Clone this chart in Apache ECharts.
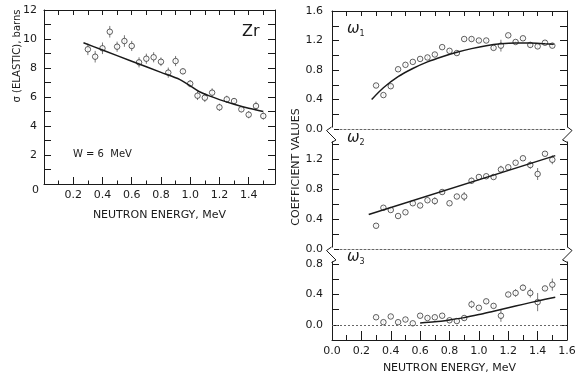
<!DOCTYPE html>
<html>
<head>
<meta charset="utf-8">
<script src="https://cdn.jsdelivr.net/npm/echarts@6/dist/echarts.min.js"></script>
<style>
  html, body { margin: 0; padding: 0; background: #fff; }
  #chart { width: 579px; height: 381px; }
</style>
</head>
<body>
<div id="chart"></div>
<script>
// neutron energies of the measured points (MeV)
const energy = [0.30, 0.35, 0.40, 0.45, 0.50, 0.55, 0.60, 0.65, 0.70, 0.75, 0.80, 0.85, 0.90,
                0.95, 1.00, 1.05, 1.10, 1.15, 1.20, 1.25, 1.30, 1.35, 1.40, 1.45, 1.50];

// elastic cross section, barns
const sigma = [9.29, 8.78, 9.36, 10.5, 9.47, 9.86, 9.52, 8.39, 8.64, 8.74, 8.43, 7.68, 8.48,
               7.77, 6.92, 6.09, 5.95, 6.30, 5.29, 5.84, 5.72, 5.15, 4.78, 5.38, 4.69];
const sigmaErr = [0.4, 0.4, 0.4, 0.4, 0.35, 0.4, 0.35, 0.35, 0.35, 0.35, 0.3, 0.35, 0.35,
                  0.2, 0.25, 0.3, 0.3, 0.3, 0.25, 0.25, 0.2, 0.2, 0.25, 0.3, 0.25];
const sigmaFitE = [0.27, 0.4, 0.6, 0.8, 0.93, 1.0, 1.06, 1.14, 1.2, 1.3, 1.4, 1.5];
const sigmaFit = [9.74, 9.24, 8.47, 7.70, 7.2, 6.77, 6.38, 6.04, 5.82, 5.5, 5.22, 5.0];

// legendre coefficients
const w1 = [0.59, 0.46, 0.58, 0.81, 0.87, 0.91, 0.95, 0.97, 1.01, 1.11, 1.06, 1.03, 1.22,
            1.22, 1.20, 1.20, 1.10, 1.13, 1.27, 1.18, 1.23, 1.14, 1.12, 1.17, 1.13];
const w1Err = [0.02, 0.02, 0.03, 0.02, 0.02, 0.02, 0.02, 0.02, 0.02, 0.02, 0.02, 0.02, 0.02,
               0.03, 0.02, 0.02, 0.03, 0.08, 0.02, 0.02, 0.02, 0.04, 0.03, 0.02, 0.03];
const w1FitE = [0.27, 0.35, 0.45, 0.55, 0.65, 0.75, 0.85, 0.95, 1.05, 1.15, 1.25, 1.35, 1.45, 1.51];
const w1Fit = [0.40, 0.56, 0.71, 0.82, 0.91, 0.98, 1.04, 1.09, 1.13, 1.155, 1.165, 1.165, 1.155, 1.15];

const w2 = [0.31, 0.55, 0.52, 0.44, 0.49, 0.61, 0.58, 0.65, 0.64, 0.76, 0.61, 0.70, 0.70,
            0.91, 0.96, 0.97, 0.96, 1.06, 1.09, 1.15, 1.21, 1.12, 1.00, 1.27, 1.19];
const w2Err = [0.02, 0.02, 0.02, 0.02, 0.02, 0.03, 0.02, 0.02, 0.05, 0.03, 0.02, 0.02, 0.06,
               0.04, 0.02, 0.02, 0.03, 0.05, 0.02, 0.02, 0.02, 0.05, 0.08, 0.02, 0.06];
const w2FitE = [0.25, 1.52];
const w2Fit = [0.46, 1.245];

const w3 = [0.10, 0.035, 0.11, 0.035, 0.07, 0.02, 0.12, 0.09, 0.10, 0.12, 0.06, 0.05, 0.09,
            0.27, 0.225, 0.31, 0.25, 0.12, 0.40, 0.42, 0.49, 0.42, 0.30, 0.48, 0.53];
const w3Err = [0.02, 0.02, 0.02, 0.02, 0.02, 0.02, 0.02, 0.02, 0.02, 0.02, 0.02, 0.02, 0.03,
               0.05, 0.02, 0.03, 0.03, 0.08, 0.03, 0.05, 0.04, 0.06, 0.12, 0.03, 0.08];
const w3FitE = [0.6, 0.7, 0.8, 0.9, 1.0, 1.1, 1.2, 1.3, 1.4, 1.52];
const w3Fit = [0.025, 0.04, 0.065, 0.095, 0.135, 0.18, 0.225, 0.27, 0.315, 0.365];

const ink = '#1a1a1a';
const font = 'DejaVu Sans';

const chart = echarts.init(document.getElementById('chart'));

// every 0.4 gets a label on the coefficient axes
const coefLabel = (hideTop) => (v) => {
    const k = Math.round(v * 10);
    if (k % 4 !== 0 || k < 0) return '';
    if (hideTop && k >= 16) return '';
    return (k / 10).toFixed(1);
};

function frameX(gridIndex, pos, min, max, extra) {
    return Object.assign({
        type: 'value', gridIndex: gridIndex, position: pos, min: min, max: max, interval: 0.1,
        axisLine: {show: true, onZero: false, lineStyle: {color: ink, width: 1}},
        axisTick: {show: true, inside: true, length: 5, lineStyle: {color: ink}},
        axisLabel: {show: false}, splitLine: {show: false}
    }, extra || {});
}

function frameY(gridIndex, pos, min, max, interval, extra) {
    return Object.assign({
        type: 'value', gridIndex: gridIndex, position: pos, min: min, max: max, interval: interval,
        axisLine: {show: true, onZero: false, lineStyle: {color: ink, width: 1}},
        axisTick: {show: true, inside: true, length: 7, lineStyle: {color: ink}},
        axisLabel: {show: false}, splitLine: {show: false}
    }, extra || {});
}

const labelStyle = {color: ink, fontFamily: font, fontSize: 11};

const xAxes = [
    // left panel bottom
    frameX(0, 'bottom', 0, 1.58, {
        interval: 0.2,
        axisTick: {show: true, inside: true, length: 7, lineStyle: {color: ink}},
        minorTick: {show: true, splitNumber: 2, length: 3.5, lineStyle: {color: ink}},
        axisLabel: Object.assign({show: true, margin: 6,
            formatter: v => (v > 0.05 && v < 1.5) ? v.toFixed(1) : ''}, labelStyle),
        name: 'NEUTRON ENERGY, MeV', nameLocation: 'middle', nameGap: 26,
        nameTextStyle: {color: ink, fontFamily: font, fontSize: 11}
    }),
    frameX(0, 'top', 0, 1.58),
    // w1 panel
    frameX(1, 'bottom', 0, 1.6, {
        axisLine: {show: true, onZero: false, lineStyle: {color: '#666', width: 1, type: [2, 2]}},
        axisTick: {show: false}
    }),
    frameX(1, 'top', 0, 1.6),
    // w2 panel
    frameX(2, 'bottom', 0, 1.6, {
        axisLine: {show: true, onZero: false, lineStyle: {color: '#666', width: 1, type: [2, 2]}},
        axisTick: {show: false}
    }),
    // w3 panel bottom
    frameX(3, 'bottom', 0, 1.6, {
        interval: 0.2,
        axisTick: {show: true, inside: true, length: 9, lineStyle: {color: ink}},
        minorTick: {show: true, splitNumber: 2, length: 5, lineStyle: {color: ink}},
        axisLabel: Object.assign({show: true, margin: 6, formatter: v => v.toFixed(1)}, labelStyle),
        name: 'NEUTRON ENERGY, MeV', nameLocation: 'middle', nameGap: 23,
        nameTextStyle: {color: ink, fontFamily: font, fontSize: 11}
    })
];

const yAxes = [
    frameY(0, 'left', 0, 12, 2, {
        minorTick: {show: true, splitNumber: 2, length: 7, lineStyle: {color: ink}},
        axisLabel: Object.assign({show: true, margin: 7, formatter: v => v === 0 ? '' : v}, labelStyle)
    }),
    frameY(0, 'right', 0, 12, 1),
    frameY(1, 'left', 0, 1.6, 0.2, {
        axisLabel: Object.assign({show: true, margin: 9, formatter: coefLabel(false)}, labelStyle)
    }),
    frameY(1, 'right', 0, 1.6, 0.2),
    frameY(2, 'left', 0, 1.6, 0.2, {
        axisLabel: Object.assign({show: true, margin: 9, formatter: coefLabel(true)}, labelStyle)
    }),
    frameY(2, 'right', 0, 1.6, 0.2),
    frameY(3, 'left', -0.2, 1.0, 0.2, {
        axisLabel: Object.assign({show: true, margin: 9, formatter: coefLabel(true)}, labelStyle)
    }),
    frameY(3, 'right', -0.2, 1.0, 0.2)
];

function errorBars(xi, yi, vals, errs) {
    return {
        type: 'custom', xAxisIndex: xi, yAxisIndex: yi, z: 2,
        data: energy.map((e, i) => [e, vals[i], errs[i]]),
        renderItem: (params, api) => {
            const x = api.value(0), y = api.value(1), d = api.value(2);
            const p1 = api.coord([x, y - d]);
            const p2 = api.coord([x, y + d]);
            return {type: 'line', shape: {x1: p1[0], y1: p1[1], x2: p2[0], y2: p2[1]},
                    style: {stroke: '#555', lineWidth: 0.8}};
        }
    };
}

function points(xi, yi, vals) {
    return {
        type: 'scatter', xAxisIndex: xi, yAxisIndex: yi, z: 3,
        symbol: 'circle', symbolSize: 5.5,
        itemStyle: {color: '#fff', borderColor: '#222', borderWidth: 0.9},
        data: energy.map((e, i) => [e, vals[i]])
    };
}

function fit(xi, yi, xs, ys, extra) {
    return Object.assign({
        type: 'line', xAxisIndex: xi, yAxisIndex: yi, z: 4, smooth: 0.3,
        showSymbol: false, symbol: 'none',
        lineStyle: {color: ink, width: 1.5},
        data: xs.map((e, i) => [e, ys[i]])
    }, extra || {});
}

// break marks on the stacked axis
function breakMarks(y) {
    return [
        {type: 'rect', shape: {x: 329, y: y - 1.5, width: 5, height: 14}, style: {fill: '#fff'}, z: 50},
        {type: 'polyline', shape: {points: [[331.5, y - 2], [326.5, y + 1.5], [336, y + 11], [331.5, y + 13.5]]},
         style: {stroke: ink, lineWidth: 1, fill: null}, z: 51},
        {type: 'rect', shape: {x: 565, y: y - 1.5, width: 5, height: 14}, style: {fill: '#fff'}, z: 50},
        {type: 'polyline', shape: {points: [[567.5, y - 2], [572, y + 1.5], [562.5, y + 11], [567.5, y + 13.5]]},
         style: {stroke: ink, lineWidth: 1, fill: null}, z: 51}
    ];
}

function omega(n, x, y) {
    return {
        type: 'text', left: x, top: y, z: 60,
        style: {
            text: '{w|ω}{s|' + n + '}',
            rich: {
                w: {fontFamily: font, fontSize: 15, fill: ink, fontStyle: 'italic'},
                s: {fontFamily: font, fontSize: 8, fill: ink, padding: [8, 0, 0, 0]}
            }
        }
    };
}

const option = {
    animation: false,
    backgroundColor: '#fff',
    grid: [
        {left: 44, top: 10, width: 231, height: 174, outerBoundsMode: 'none'},
        {left: 332, top: 11, width: 235, height: 118, outerBoundsMode: 'none'},
        {left: 332, top: 129, width: 235, height: 120, outerBoundsMode: 'none'},
        {left: 332, top: 249, width: 235, height: 91, outerBoundsMode: 'none'}
    ],
    xAxis: xAxes,
    yAxis: yAxes,
    series: [
        errorBars(0, 0, sigma, sigmaErr),
        points(0, 0, sigma),
        fit(0, 0, sigmaFitE, sigmaFit),

        errorBars(2, 2, w1, w1Err),
        points(2, 2, w1),
        fit(2, 2, w1FitE, w1Fit),

        errorBars(4, 4, w2, w2Err),
        points(4, 4, w2),
        fit(4, 4, w2FitE, w2Fit, {smooth: false}),

        errorBars(5, 6, w3, w3Err),
        points(5, 6, w3),
        fit(5, 6, w3FitE, w3Fit, {
            markLine: {
                silent: true, symbol: 'none', label: {show: false},
                lineStyle: {color: '#666', width: 1, type: [2, 2]},
                data: [{yAxis: 0}]
            }
        })
    ],
    graphic: [
        {type: 'text', left: 32, top: 185, style: {text: '0', fill: ink, font: '11px "DejaVu Sans"'}},
        {type: 'text', left: 242, top: 24, style: {text: 'Zr', fill: ink, font: '16px "DejaVu Sans"'}},
        {type: 'text', left: 73, top: 149, style: {text: 'W = 6  MeV', fill: ink, font: '10px "DejaVu Sans"'}},
        {type: 'text', x: 17, y: 56, rotation: Math.PI / 2,
         style: {text: 'σ (ELASTIC), barns', fill: ink, font: '10px "DejaVu Sans"',
                 align: 'center', verticalAlign: 'middle'}},
        {type: 'text', x: 296, y: 167, rotation: Math.PI / 2,
         style: {text: 'COEFFICIENT VALUES', fill: ink, font: '11px "DejaVu Sans"',
                 align: 'center', verticalAlign: 'middle'}},
        omega('1', 347, 22),
        omega('2', 347, 131),
        omega('3', 347, 250)
    ].concat(breakMarks(129), breakMarks(249))
};

chart.setOption(option);
</script>
</body>
</html>
